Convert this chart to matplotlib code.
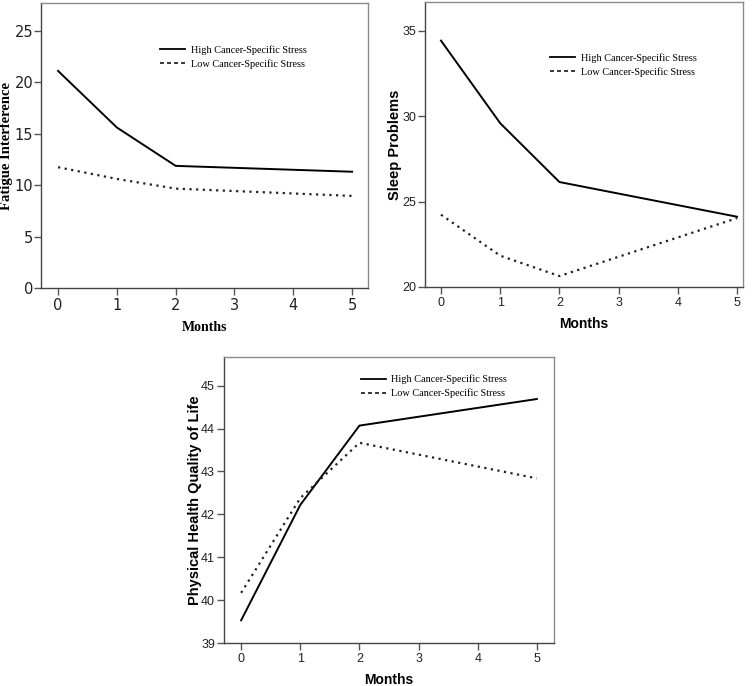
import matplotlib
matplotlib.use("Agg")
import matplotlib.pyplot as plt
from matplotlib.lines import Line2D

months = [0, 1, 2, 5]
xticks = [0, 1, 2, 3, 4, 5]

fatigue_high = [21.1, 15.6, 11.87, 11.3]
fatigue_low = [11.74, 10.6, 9.66, 8.95]

sleep_high = [34.41, 29.58, 26.14, 24.11]
sleep_low = [24.23, 21.83, 20.64, 24.03]

phys_high = [39.53, 42.22, 44.07, 44.69]
phys_low = [40.17, 42.38, 43.67, 42.84]

legend_labels = ["High Cancer-Specific Stress", "Low Cancer-Specific Stress"]

W, H = 756, 686
fig = plt.figure(figsize=(W / 100, H / 100), dpi=100)


def make_ax(left, top, right, bottom):
    return fig.add_axes([left / W, 1 - bottom / H, (right - left) / W, (bottom - top) / H])


def style(ax, high, low, ylim, xlim, yticks, tickfam, tickfs, tickpad, labfam,
          ylabel, ylabx, leg_xy):
    ax.plot(months, high, color="black", lw=1.4, solid_joinstyle="miter")
    ax.plot(months, low, color="#222222", lw=1.6, linestyle=(0, (1, 2.0)))
    ax.set_xlim(*xlim)
    ax.set_ylim(*ylim)
    ax.set_xticks(xticks)
    ax.set_yticks(yticks)
    for s in ["left", "bottom"]:
        ax.spines[s].set_color("#444444")
        ax.spines[s].set_linewidth(1.0)
    for s in ["top", "right"]:
        ax.spines[s].set_color("#8a8a8a")
        ax.spines[s].set_linewidth(1.0)
    ax.tick_params(direction="out", length=5, width=1.0, color="#555555", pad=2)
    ax.tick_params(axis="y", pad=tickpad)
    for lab in ax.get_xticklabels() + ax.get_yticklabels():
        lab.set_family(tickfam)
        lab.set_fontsize(tickfs)
        lab.set_color("#222222")
    ax.set_xlabel("Months", family=labfam, fontweight="bold", fontsize=10, labelpad=6)
    ax.set_ylabel(ylabel, family=labfam, fontweight="bold", fontsize=10.5)
    ax.yaxis.set_label_coords(ylabx, 0.5)
    handles = [Line2D([], [], color="black", lw=1.3),
               Line2D([], [], color="black", lw=1.1, linestyle=(0, (2.6, 2.0)))]
    ax.legend(handles, legend_labels, loc="upper left", bbox_to_anchor=leg_xy,
              frameon=False, borderpad=0, borderaxespad=0, handlelength=2.45,
              handletextpad=0.55, labelspacing=0.42,
              prop={"family": ["Liberation Serif", "DejaVu Serif"], "size": 7.35})


ax1 = make_ax(41, 3, 368, 288)
ax2 = make_ax(425, 2, 743, 287)
ax3 = make_ax(224, 357, 554, 643)

style(ax1, fatigue_high, fatigue_low, (0, 27.7), (-0.29, 5.27), [0, 5, 10, 15, 20, 25],
      ["DejaVu Sans"], 10.5, 0.5, ["Liberation Serif", "DejaVu Serif"],
      "Fatigue Interference", -0.086, (0.364, 0.853))
style(ax2, sleep_high, sleep_low, (20, 36.67), (-0.27, 5.1), [20, 25, 30, 35],
      ["Liberation Sans", "DejaVu Sans"], 9, 1.5, ["Liberation Sans", "DejaVu Sans"],
      "Sleep Problems", -0.072, (0.393, 0.821))
style(ax3, phys_high, phys_low, (39, 45.67), (-0.29, 5.29), [39, 40, 41, 42, 43, 44, 45],
      ["Liberation Sans", "DejaVu Sans"], 9, 1.5, ["Liberation Sans", "DejaVu Sans"],
      "Physical Health Quality of Life", -0.067, (0.414, 0.938))

fig.savefig("out.png", dpi=100)
